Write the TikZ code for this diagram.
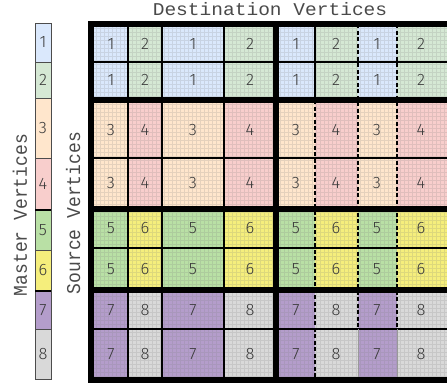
\documentclass[tikz,border=0pt]{standalone}
\usepackage{fontspec}
\newfontfamily\monofont{Liberation Mono}
\newfontfamily\digitfont{Fira Sans Light}
\definecolor{c1}{HTML}{DAE8FC}
\definecolor{c2}{HTML}{D5E8D4}
\definecolor{c3}{HTML}{FFE6CC}
\definecolor{c4}{HTML}{F8CECC}
\definecolor{c5}{HTML}{B9E0A5}
\definecolor{c6}{HTML}{F5EE7C}
\definecolor{c7}{HTML}{B49DCB}
\definecolor{c8}{HTML}{D9D9D9}
\definecolor{txt}{HTML}{3A3A3A}
\definecolor{labtxt}{HTML}{4A4A4A}
\tikzset{
  digit/.style={font=\digitfont\fontsize{16.5}{17}\selectfont, text=txt, inner sep=0pt},
  label/.style={font=\monofont\fontsize{18}{19}\selectfont, text=labtxt, inner sep=0pt, xscale=1.085},
  thin line/.style={line width=1.2pt, black},
  dash line/.style={line width=1.4pt, black, dash pattern=on 4pt off 2.5pt},
  thick line/.style={line width=6pt, black},
  gridtex/.style={line width=0.9pt, gray, opacity=0.2},
  mastercell/.style={draw=black!70, line width=0.9pt},
}
\begin{document}
\begin{tikzpicture}[x=1pt,y=-1pt]
\useasboundingbox (0,0) rectangle (447,383);
% main grid cells
\foreach \r/\ya/\yb/\p in {1/24/62/1, 2/62/100/1, 3/100/158/2, 4/158/209/2, 5/209/248/3, 6/248/290/3, 7/290/329/4, 8/329/380/4} {
  \foreach \c/\xa/\xb/\o in {1/91/128/1, 2/128/162/0, 3/162/224/1, 4/224/276/0, 5/276/315/1, 6/315/358/0, 7/358/397/1, 8/397/452/0} {
    \pgfmathtruncatemacro\v{2*\p-\o}
    \fill[c\v] (\xa,\ya) rectangle (\xb,\yb);
  }
}
\begin{scope}
\clip (91,24) rectangle (452,380);
\draw[gridtex] (88,20) grid[step=4pt] (452,384);
\end{scope}
\foreach \r/\p/\ty in {1/1/44, 2/1/80, 3/2/130, 4/2/183, 5/3/228, 6/3/269, 7/4/310, 8/4/354} {
  \foreach \c/\o/\tx in {1/1/111, 2/0/145, 3/1/193, 4/0/250, 5/1/296, 6/0/336, 7/1/377, 8/0/421} {
    \pgfmathtruncatemacro\v{2*\p-\o}
    \node[digit] (n\r\c) at (\tx,\ty) {\v};
  }
}
% thin horizontal lines
\foreach \y in {62,158,248,329} \draw[thin line] (91,\y) -- (452,\y);
% thin vertical lines, left half
\foreach \x in {128,162,224} \draw[thin line] (\x,24) -- (\x,380);
% right half
\draw[thin line] (315,24) -- (315,100);
\draw[dash line] (315,100) -- (315,380);
\foreach \x in {358,397} {
  \draw[dash line] (\x,24) -- (\x,329);
  \draw[line width=0.8pt, black!40] (\x,329) -- (\x,380);
}
% thick lines
\draw[thick line] (91,21) -- (91,383);
\draw[thick line] (276,21) -- (276,383);
\foreach \y in {24,100,209,290,380} \draw[thick line] (88,\y) -- (452,\y);
% master column
\foreach \i/\ya/\yb in {1/23/62, 2/62/98, 3/98/158, 4/158/210, 5/210/250, 6/250/291, 7/291/329, 8/329/379} {
  \draw[mastercell, fill=c\i] (35,\ya) rectangle (51,\yb);
  \node[digit] (m\i) at (43,{(\ya+\yb)/2}) {\i};
}
\draw[line width=2pt, black] (35,210) -- (51,210);
\draw[line width=2pt, black] (35,291) -- (51,291);
% labels
\node[label, anchor=base] (title) at (270,15) {Destination Vertices};
\node[label, anchor=base, rotate=90] (master) at (27,215) {Master Vertices};
\node[label, anchor=base, rotate=90] (source) at (80,213) {Source Vertices};
\end{tikzpicture}
\end{document}
